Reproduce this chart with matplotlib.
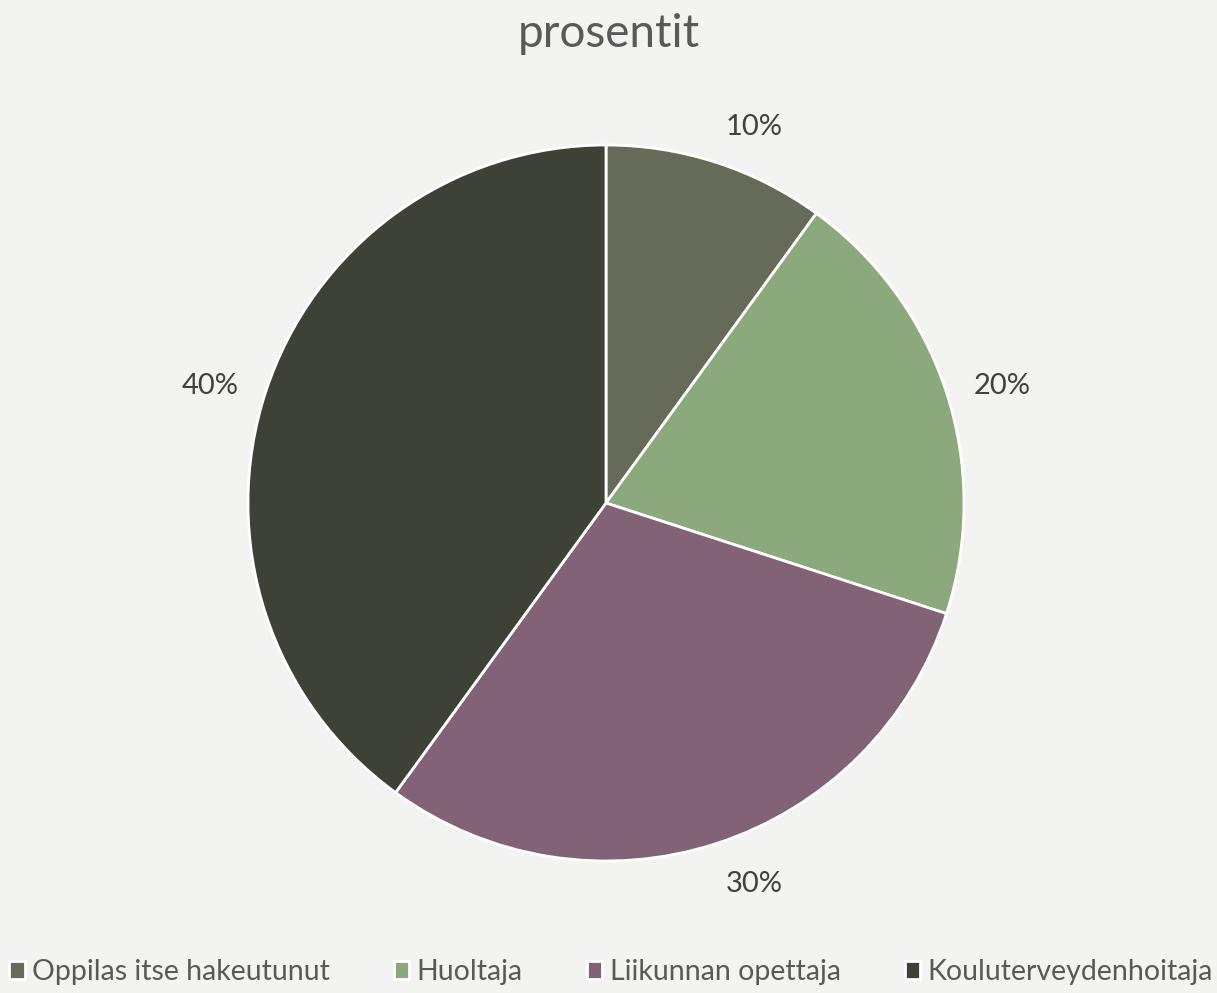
import matplotlib
matplotlib.use("Agg")
import matplotlib.pyplot as plt
import numpy as np

categories = ["Oppilas itse hakeutunut", "Huoltaja", "Liikunnan opettaja", "Kouluterveydenhoitaja"]
values = [10, 20, 30, 40]
colors = ["#666A59", "#8CA97D", "#826375", "#3E4236"]
title = "prosentit"

plt.rcParams['font.family'] = ['Lato', 'DejaVu Sans']
bg = "#F3F3F1"
fig = plt.figure(figsize=(12.17, 9.93), dpi=100, facecolor=bg)
ax = fig.add_axes([0, 0, 1, 1])
ax.set_facecolor(bg)
ax.set_xlim(0, 1217)
ax.set_ylim(0, 993)
ax.set_aspect('equal')
ax.axis('off')

cx, cy, R = 606, 993 - 503, 358
wedges, texts, autotexts = ax.pie(
    values, colors=colors, startangle=90, counterclock=False,
    center=(cx, cy), radius=R,
    autopct='%1.0f%%', pctdistance=1.135,
    wedgeprops=dict(edgecolor='white', linewidth=2),
    textprops=dict(color='#404040', fontsize=21), frame=False)
ax.set_xlim(0, 1217)
ax.set_ylim(0, 993)

# Excel-style outside-end label placement
for w, t in zip(wedges, autotexts):
    ang = np.deg2rad((w.theta1 + w.theta2) / 2)
    c, s = np.cos(ang), np.sin(ang)
    d = R * 1.08
    t.set_position((cx + d * c, cy + d * s))
    t.set_ha('left' if c > 0 else 'right')
    if s > 0.7:
        t.set_va('baseline')
    elif s < -0.7:
        t.set_va('top')
    else:
        t.set_va('center_baseline')

fig.text(0.5, 1 - 34 / 993, title, ha='center', va='center', fontsize=33, color='#595959')

leg = ax.legend(wedges, categories, loc='center', bbox_to_anchor=(0.502, 1 - 972 / 993),
                bbox_transform=fig.transFigure, ncol=4, frameon=False,
                fontsize=20.5, handlelength=0.55, handleheight=0.55, handletextpad=0.25,
                columnspacing=2.25, labelcolor='#595959')

fig.savefig("out.png", dpi=100, facecolor=bg)
